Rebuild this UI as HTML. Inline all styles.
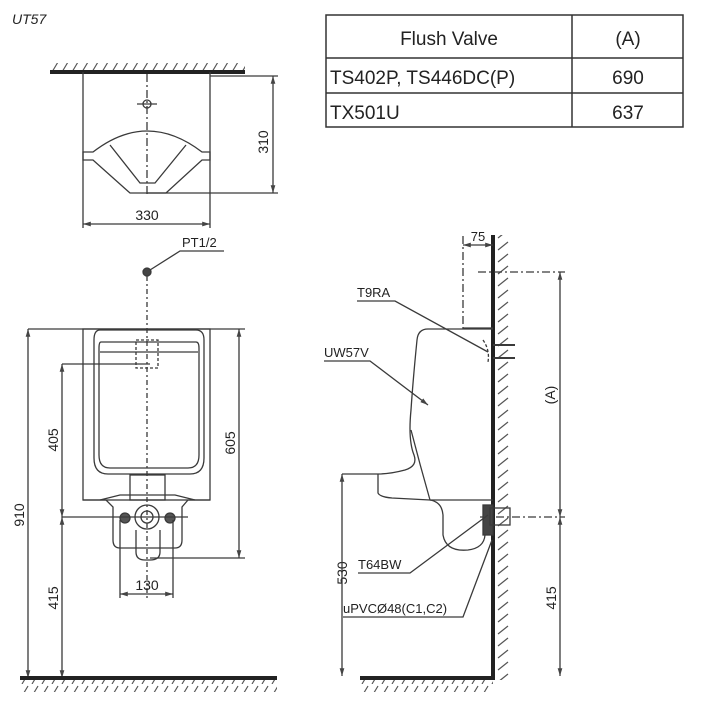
<!DOCTYPE html>
<html><head><meta charset="utf-8"><style>
html,body{margin:0;padding:0;background:#fff;}
svg{display:block;}
text{font-family:"Liberation Sans",sans-serif;fill:#222;}
</style></head><body>
<svg width="702" height="712" viewBox="0 0 702 712" xmlns="http://www.w3.org/2000/svg">
<defs>
<marker id="a" viewBox="0 0 10 10" refX="10" refY="5" markerWidth="6" markerHeight="6" orient="auto-start-reverse"><path d="M0,2 L10,5 L0,8z" fill="#444"/></marker>
<pattern id="hatchUp" width="10" height="12" patternUnits="userSpaceOnUse"><path d="M2,12 L8,2" stroke="#555" stroke-width="1.2"/></pattern>
<pattern id="hatchR" width="16" height="12" patternUnits="userSpaceOnUse"><path d="M2,10 L12,2" stroke="#555" stroke-width="1.2"/></pattern>
</defs>
<g stroke="#3a3a3a" fill="none" stroke-width="1.3">
<text x="12" y="24" font-size="14" font-style="italic" fill="#777" stroke="none">UT57</text>

<rect x="326" y="15" width="357" height="112" stroke="#333" stroke-width="1.5"/>
<line x1="326" y1="58" x2="683" y2="58" stroke="#333" stroke-width="1.5"/>
<line x1="326" y1="93" x2="683" y2="93" stroke="#333" stroke-width="1.5"/>
<line x1="572" y1="15" x2="572" y2="127" stroke="#333" stroke-width="1.5"/>
<g stroke="none" font-size="19">
<text x="449" y="45" text-anchor="middle">Flush Valve</text>
<text x="628" y="45" text-anchor="middle">(A)</text>
<text x="330" y="84">TS402P, TS446DC(P)</text>
<text x="628" y="84" text-anchor="middle">690</text>
<text x="330" y="119">TX501U</text>
<text x="628" y="119" text-anchor="middle">637</text>
</g>

<rect x="50" y="63" width="195" height="8" fill="url(#hatchUp)" stroke="none"/>
<line x1="50" y1="72" x2="245" y2="72" stroke="#222" stroke-width="4"/>
<line x1="83" y1="72" x2="83" y2="228"/>
<line x1="210" y1="72" x2="210" y2="228"/>
<line x1="147" y1="74" x2="147" y2="195" stroke-dasharray="8,3,2,3"/>
<circle cx="147" cy="104" r="4"/>
<line x1="137" y1="104" x2="157" y2="104"/>
<path d="M83,152 L93,152 Q147,110 202,152 L210,152 L210,160 L202,160 L166,193 L130,193 L93,160 L83,160Z"/>
<path d="M110,145 L140,183 L155,183 L186,145"/>
<line x1="147" y1="193" x2="278" y2="193"/>
<line x1="210" y1="76" x2="278" y2="76"/>
<line x1="273" y1="76" x2="273" y2="193" marker-start="url(#a)" marker-end="url(#a)"/>
<text x="0" y="0" font-size="14" stroke="none" transform="translate(268,142) rotate(-90)" text-anchor="middle">310</text>
<line x1="83" y1="224" x2="210" y2="224" marker-start="url(#a)" marker-end="url(#a)"/>
<text x="147" y="220" font-size="14" stroke="none" text-anchor="middle">330</text>

<text x="182" y="247" font-size="13" stroke="none">PT1/2</text>
<path d="M150,270 L180,251 L224,251"/>
<circle cx="147" cy="272" r="4" fill="#444"/>
<line x1="147" y1="276" x2="147" y2="600" stroke-dasharray="5,3,2,3"/>
<line x1="28" y1="329" x2="245" y2="329"/>
<rect x="83" y="329" width="127" height="171"/>
<path d="M100,330 L196,330 Q204,330 204,340 L204,458 Q204,474 190,474 L108,474 Q94,474 94,458 L94,340 Q94,330 100,330Z"/>
<path d="M101,342 L196,342 Q199,342 199,348 L199,455 Q199,468 188,468 L110,468 Q99,468 99,455 L99,348 Q99,342 101,342Z"/>
<line x1="100" y1="352" x2="198" y2="352"/>
<rect x="136" y="340" width="22" height="28" stroke-dasharray="3,2"/>
<rect x="130" y="475" width="35" height="25"/>
<path d="M83,500 L106,500 L113,507 L113,540 Q113,548 120,548 L175,548 Q182,548 182,540 L182,507 L188,500 L210,500"/>
<path d="M100,500 L120,495 L175,495 L195,500"/>
<circle cx="147" cy="517" r="12"/>
<circle cx="147" cy="517" r="6"/>
<path d="M136,530 L136,552 Q136,560 145,560 L150,560 Q160,560 160,552 L160,530"/>
<circle cx="125" cy="518" r="5" fill="#555"/>
<circle cx="170" cy="518" r="5" fill="#555"/>
<line x1="62" y1="517" x2="188" y2="517"/>
<line x1="62" y1="364" x2="150" y2="364"/>
<line x1="28" y1="329" x2="28" y2="678" marker-start="url(#a)" marker-end="url(#a)"/>
<line x1="62" y1="364" x2="62" y2="517" marker-start="url(#a)" marker-end="url(#a)"/>
<line x1="62" y1="517" x2="62" y2="678" marker-start="url(#a)" marker-end="url(#a)"/>
<line x1="150" y1="558" x2="245" y2="558"/>
<line x1="239" y1="329" x2="239" y2="558" marker-start="url(#a)" marker-end="url(#a)"/>
<line x1="120" y1="520" x2="120" y2="598"/>
<line x1="173" y1="520" x2="173" y2="598"/>
<line x1="120" y1="594" x2="173" y2="594" marker-start="url(#a)" marker-end="url(#a)"/>
<g stroke="none" font-size="14">
<text transform="translate(24,515) rotate(-90)" text-anchor="middle">910</text>
<text transform="translate(58,440) rotate(-90)" text-anchor="middle">405</text>
<text transform="translate(58,598) rotate(-90)" text-anchor="middle">415</text>
<text transform="translate(235,443) rotate(-90)" text-anchor="middle">605</text>
<text x="147" y="590" text-anchor="middle">130</text>
</g>
<line x1="20" y1="678" x2="277" y2="678" stroke="#222" stroke-width="4"/>
<rect x="20" y="680" width="257" height="12" fill="url(#hatchUp)" stroke="none"/>

<line x1="493" y1="235" x2="493" y2="680" stroke="#222" stroke-width="4"/>
<rect x="495" y="235" width="16" height="445" fill="url(#hatchR)" stroke="none"/>
<line x1="360" y1="678" x2="495" y2="678" stroke="#222" stroke-width="4"/>
<rect x="360" y="680" width="133" height="12" fill="url(#hatchUp)" stroke="none"/>
<line x1="463" y1="236" x2="463" y2="330" stroke-dasharray="8,3,2,3"/>
<line x1="463" y1="245" x2="493" y2="245" marker-start="url(#a)" marker-end="url(#a)"/>
<text x="478" y="241" font-size="13" stroke="none" text-anchor="middle">75</text>
<line x1="478" y1="272" x2="565" y2="272" stroke-dasharray="8,3,2,3"/>
<line x1="560" y1="272" x2="560" y2="517" marker-start="url(#a)" marker-end="url(#a)"/>
<line x1="560" y1="517" x2="560" y2="676" marker-start="url(#a)" marker-end="url(#a)"/>
<line x1="480" y1="517" x2="565" y2="517" stroke-dasharray="8,3,2,3"/>
<g stroke="none" font-size="14">
<text transform="translate(555,395) rotate(-90)" text-anchor="middle">(A)</text>
<text transform="translate(556,598) rotate(-90)" text-anchor="middle">415</text>
<text transform="translate(347,573) rotate(-90)" text-anchor="middle">530</text>
<text x="357" y="297" font-size="13">T9RA</text>
<text x="324" y="357" font-size="13">UW57V</text>
<text x="358" y="569" font-size="13">T64BW</text>
<text x="343" y="613" font-size="13">uPVCØ48(C1,C2)</text>
</g>
<line x1="463" y1="328" x2="493" y2="328"/>
<path d="M493,329 L428,329 Q418,329 417,340 Q413,380 411,410 Q408,440 414,455 Q418,466 405,470 Q390,474 378,474 L342,474"/>
<path d="M378,474 L378,493 Q380,497 392,498 L430,500 L493,500"/>
<path d="M411,430 Q420,465 430,500"/>
<path d="M430,500 Q442,502 443,515 L443,535 Q446,552 468,550 Q484,548 485,535"/>
<rect x="483" y="505" width="10" height="30" fill="#444"/>
<rect x="490" y="508" width="20" height="17"/>
<line x1="493" y1="345" x2="515" y2="345" stroke-width="2"/>
<line x1="493" y1="358" x2="515" y2="358" stroke-width="2"/>
<path d="M483,340 Q490,350 488,362" stroke-dasharray="3,2"/>
<path d="M357,301 L395,301 L488,352"/>
<path d="M324,361 L370,361 L428,405" marker-end="url(#a)"/>
<path d="M358,573 L410,573 L488,515"/>
<path d="M343,617 L463,617 L492,540"/>
<line x1="342" y1="474" x2="342" y2="676" marker-start="url(#a)" marker-end="url(#a)"/>
</g>
</svg>
</body></html>
